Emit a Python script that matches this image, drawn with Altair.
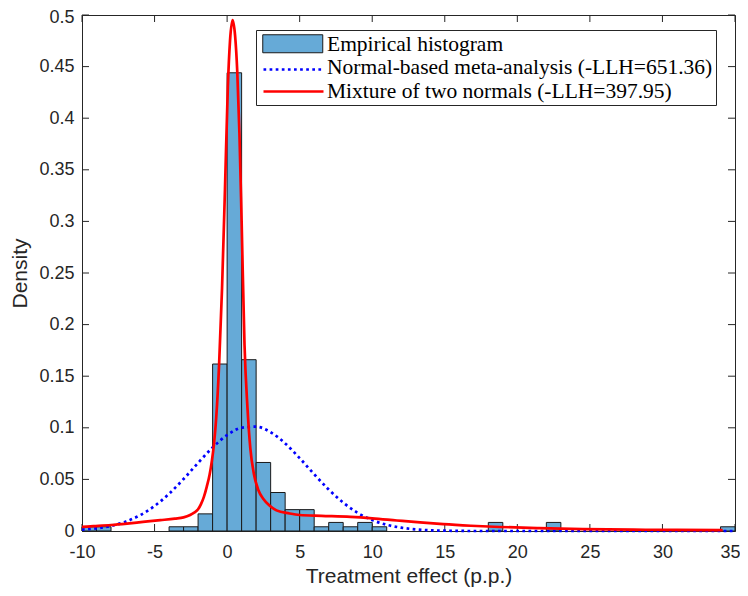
import altair as alt
import pandas as pd

# ---------------- data ----------------
bin_start = [-10, -9, -4, -3, -2, -1, 0, 1, 2, 3, 4, 5, 6, 7, 8, 9, 10, 18, 22, 34]
bin_density = [0.0041, 0.0041, 0.0041, 0.0041, 0.0166, 0.1618, 0.444, 0.166, 0.0664, 0.0373,
               0.0207, 0.0207, 0.0041, 0.0083, 0.0041, 0.0083, 0.0041, 0.0083, 0.0083, 0.0041]
bin_width = 1

normal_x = list(range(-10, 36))
normal_y = [0.0013, 0.0026, 0.0050, 0.0090, 0.0153, 0.0242, 0.0361, 0.0504, 0.0660, 0.0809,
            0.0929, 0.1001, 0.1011, 0.0957, 0.0849, 0.0706, 0.0550, 0.0402, 0.0275, 0.0176,
            0.0106, 0.0060, 0.0032, 0.0016, 0.0007, 0.0003, 0.0001, 0, 0, 0,
            0, 0, 0, 0, 0, 0, 0, 0, 0, 0,
            0, 0, 0, 0, 0, 0]

mix_x = [-10, -9.2, -8, -6.9, -5.8, -4.6, -3.6, -3.0, -2.55, -2.3, -2.0, -1.8, -1.6, -1.4,
         -1.2, -1.05, -0.9, -0.75, -0.55, -0.35, -0.15, 0.05, 0.2, 0.38, 0.55, 0.7, 0.85,
         1.0, 1.2, 1.4, 1.6, 1.85, 2.15, 2.5, 2.9, 3.4, 4.3, 5.0, 6.5, 8.5, 10, 11.7, 13.3,
         14.9, 16.8, 18.8, 21.5, 24.5, 28, 31, 34.15]
mix_y = [0.0040, 0.0047, 0.0058, 0.0072, 0.0088, 0.0105, 0.0120, 0.0132, 0.0155, 0.0175,
         0.021, 0.026, 0.033, 0.043, 0.055, 0.068, 0.085, 0.11, 0.162, 0.235, 0.33, 0.43,
         0.475, 0.495, 0.48, 0.445, 0.385, 0.30, 0.18, 0.12, 0.08, 0.055, 0.0397, 0.031,
         0.025, 0.020, 0.017, 0.0155, 0.0147, 0.0137, 0.0123, 0.0102, 0.0083, 0.0066,
         0.0051, 0.0039, 0.0028, 0.0019, 0.0013, 0.0010, 0.0008]

series_labels = ["Empirical histogram",
                 "Normal-based meta-analysis (-LLH=651.36)",
                 "Mixture of two normals (-LLH=397.95)"]
hist_color = "#66aad7"
normal_color = "#0000ff"
mix_color = "#ff0000"

x_ticks = [-10, -5, 0, 5, 10, 15, 20, 25, 30, 35]
y_ticks = [0, 0.05, 0.1, 0.15, 0.2, 0.25, 0.3, 0.35, 0.4, 0.45, 0.5]

# ---------------- chart ----------------
W, H = 653, 516
AX = "#262626"
SANS = "Liberation Sans"
DOTS = [2.7, 3.4]
LW = 2.7

xs = alt.Scale(domain=[-10, 35], nice=False, zero=False)
ys = alt.Scale(domain=[0, 0.5], nice=False, zero=False)

x_axis = alt.Axis(values=x_ticks, labelExpr="'' + datum.value", ticks=False, tickSize=0,
                  grid=False, domainColor=AX, labelFont=SANS, labelFontSize=18,
                  labelColor=AX, labelPadding=12, labelFlush=False, labelOverlap=False,
                  labelOffset={"condition": {"test": "datum.value === 35", "value": -5},
                               "value": 0},
                  title="Treatment effect (p.p.)", titleFont=SANS, titleFontSize=21,
                  titleFontWeight="normal", titleColor=AX, titleY=45,
                  titleBaseline="middle")
y_axis = alt.Axis(values=y_ticks, format=".2~f", ticks=False, tickSize=0, grid=False,
                  domainColor=AX, labelFont=SANS, labelFontSize=18, labelColor=AX,
                  labelPadding=8, labelOverlap=False, labelFlush=False,
                  labelOffset={"condition": {"test": "datum.value === 0.5", "value": 2},
                               "value": 0},
                  title="Density", titleFont=SANS, titleFontSize=21,
                  titleFontWeight="normal", titleColor=AX, titleX=-62, titleY=H / 2,
                  titleBaseline="middle", titleAlign="center")

LEG_X, LEG_Y, PITCH = 174, 15, 25
common_leg = dict(title=None, orient="none", padding=3, rowPadding=1.5, symbolSize=400,
                  symbolOffset=23, labelOffset=22, labelLimit=700,
                  labelFont="Liberation Serif", labelFontSize=21.5, labelColor="#000000")

# main legend: box + three labels, only the red line symbol visible
main_legend = alt.Legend(legendX=LEG_X, legendY=LEG_Y, strokeColor=AX, fillColor="#ffffff",
                         symbolType="M-3,0H3", symbolStrokeWidth=LW, zindex=0, **common_leg)
# symbol-only legends laid over the main one
hist_legend = alt.Legend(legendX=LEG_X, legendY=LEG_Y, symbolType="M-3,-0.9H3V0.9H-3Z",
                         symbolStrokeColor="#1a1a1a", symbolStrokeWidth=1,
                         symbolFillColor=hist_color, labelExpr="''", zindex=1, **common_leg)
normal_legend = alt.Legend(legendX=LEG_X, legendY=LEG_Y + PITCH, symbolType="M-3,0H3",
                           symbolStrokeColor=normal_color, symbolStrokeWidth=LW,
                           labelExpr="''", zindex=1, **common_leg)


def X(field):
    return alt.X(field, scale=xs, axis=x_axis)


def Y(field):
    return alt.Y(field, scale=ys, axis=y_axis)


xt = alt.Chart(pd.DataFrame({"t": x_ticks}))
yt = alt.Chart(pd.DataFrame({"t": y_ticks}))
tick_style = dict(color=AX, strokeWidth=1)
ticks_bottom = xt.mark_rule(**tick_style).encode(x=X("t:Q"), y=alt.value(H), y2=alt.value(H - 7))
ticks_top = xt.mark_rule(**tick_style).encode(x=X("t:Q"), y=alt.value(0), y2=alt.value(7))
ticks_left = yt.mark_rule(**tick_style).encode(y=Y("t:Q"), x=alt.value(0), x2=alt.value(7))
ticks_right = yt.mark_rule(**tick_style).encode(y=Y("t:Q"), x=alt.value(W), x2=alt.value(W - 7))

hist = alt.Chart(pd.DataFrame({"start": bin_start, "density": bin_density})).transform_calculate(
    end=f"datum.start + {bin_width}", zero="0", series=f"'{series_labels[0]}'"
).mark_rect(stroke="#1a1a1a", strokeWidth=1, opacity=1).encode(
    x=X("start:Q"), x2="end:Q", y=Y("density:Q"), y2="zero:Q",
    fill=alt.Fill("series:N", scale=alt.Scale(domain=[series_labels[0]], range=[hist_color]),
                  legend=hist_legend)
)

normal = alt.Chart(pd.DataFrame({"x": normal_x, "y": normal_y})).transform_calculate(
    series=f"'{series_labels[1]}'"
).mark_line(strokeWidth=LW, color=normal_color, interpolate="monotone").encode(
    x=X("x:Q"), y=Y("y:Q"),
    strokeDash=alt.StrokeDash("series:N", scale=alt.Scale(domain=[series_labels[1]], range=[DOTS]),
                              legend=normal_legend)
)

mix = alt.Chart(pd.DataFrame({"x": mix_x, "y": mix_y})).transform_calculate(
    series=f"'{series_labels[2]}'"
).mark_line(strokeWidth=LW, interpolate="monotone").encode(
    x=X("x:Q"), y=Y("y:Q"),
    color=alt.Color("series:N",
                    scale=alt.Scale(domain=series_labels,
                                    range=["transparent", "transparent", mix_color]),
                    legend=main_legend)
)

chart = alt.layer(ticks_bottom, ticks_top, ticks_left, ticks_right, hist, normal, mix).properties(
    width=W, height=H,
    padding={"left": 74, "top": 7, "right": 5, "bottom": 57},
    autosize="none",
    background="#ffffff",
).resolve_scale(color="independent", fill="independent", strokeDash="independent"
).configure_view(stroke=AX, strokeWidth=1)

chart.save("out.html", embed_options={"renderer": "svg", "actions": False})
